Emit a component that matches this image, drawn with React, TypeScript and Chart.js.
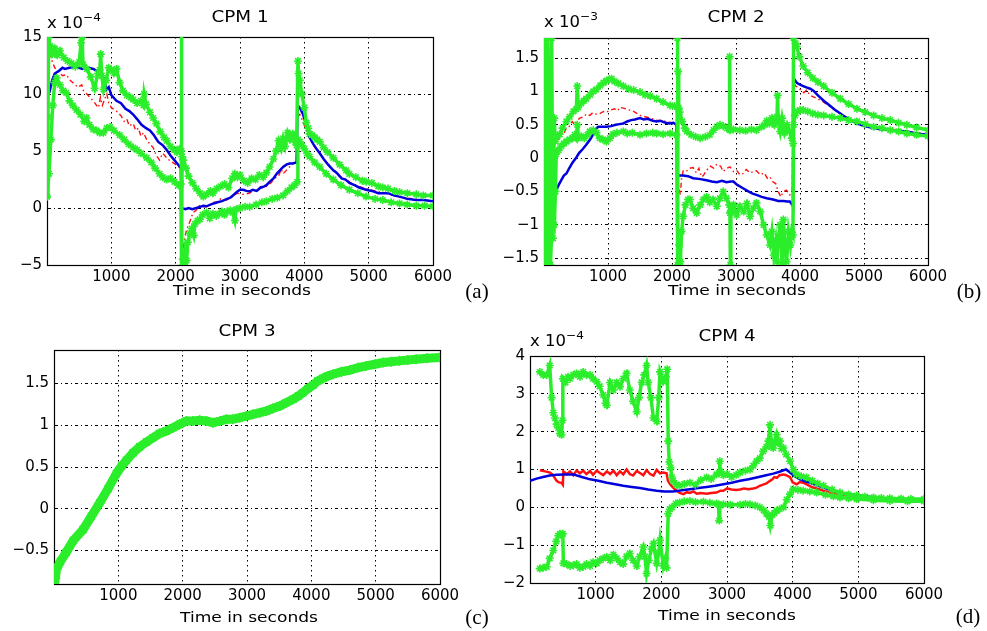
import React, { useEffect, useRef } from 'react';
import { Chart, registerables } from 'chart.js';

Chart.register(...registerables);

type P = [number, number][];

// ---------------- CPM 1 (x 1e-4) ----------------
const cpm1GreenUpper: P = [
  [0, 1], [15, 8], [25, 15], [50, 14.2], [80, 13.5], [120, 14], [160, 13.4], [200, 13.8], [260, 13.2],
  [320, 12.9], [380, 12.7], [440, 12.4], [500, 12.8], [530, 14.5], [545, 15], [560, 12.6], [620, 12.2],
  [680, 11.5], [740, 10.5], [790, 11.8], [820, 12.1], [835, 13.5], [850, 11.6], [880, 10.4], [920, 11.2],
  [960, 12.3], [1000, 12.1], [1040, 11.8], [1080, 12.2], [1130, 11.0], [1180, 10.3], [1240, 9.9],
  [1300, 9.7], [1340, 9.5], [1400, 9.2], [1460, 9.4], [1500, 9.0], [1510, 10.0], [1540, 9.1], [1600, 8.4],
  [1650, 7.9], [1700, 7.4], [1760, 6.7], [1820, 6.2], [1860, 5.9], [1920, 5.4], [1980, 5.1], [2020, 4.9],
  [2060, 5.2], [2088, 5.0], [2090, 15.5], [2094, -5.5], [2100, 4.5], [2120, 4.2], [2160, 3.5], [2200, 2.8],
  [2260, 2.2], [2320, 1.7], [2380, 1.3], [2430, 1.0], [2480, 1.2], [2540, 1.5], [2580, 1.3], [2640, 1.7],
  [2700, 1.9], [2760, 2.1], [2820, 1.8], [2880, 2.6], [2920, 3.0], [2960, 2.7], [3000, 2.9], [3060, 2.4],
  [3120, 2.2], [3180, 2.6], [3240, 2.5], [3300, 2.9], [3360, 2.7], [3410, 3.1], [3460, 3.6], [3520, 4.3],
  [3560, 5.0], [3600, 5.9], [3640, 5.2], [3670, 6.1], [3700, 5.4], [3740, 6.6], [3780, 6.0], [3820, 6.5],
  [3860, 5.8], [3880, 5.5], [3900, 12.9], [3910, 11.8], [3930, 11.2], [3960, 10.0], [4000, 8.8],
  [4030, 7.5], [4060, 7.0], [4080, 6.5], [4120, 6.4], [4160, 6.2], [4200, 6.0], [4240, 5.8], [4300, 5.3],
  [4360, 4.9], [4450, 4.4], [4550, 3.8], [4650, 3.3], [4700, 3.0], [4800, 2.7], [4900, 2.4], [4960, 2.3],
  [5050, 2.2], [5150, 1.9], [5220, 1.8], [5300, 1.7], [5400, 1.5], [5480, 1.4], [5600, 1.3], [5740, 1.2],
  [5850, 1.1], [6000, 1.1],
];
const cpm1GreenLower: P = [
  [0, 1], [30, 3], [60, 6], [90, 9], [120, 11], [150, 11.4], [200, 10.8], [250, 10.3], [300, 10.1],
  [350, 9.4], [400, 9.0], [460, 8.6], [520, 8.2], [580, 7.6], [615, 7.9], [660, 7.3], [720, 6.9],
  [770, 6.8], [820, 6.6], [875, 6.6], [930, 7.0], [980, 7.1], [1040, 6.8], [1130, 6.4], [1200, 6.0],
  [1270, 5.6], [1340, 5.3], [1400, 5.1], [1460, 4.8], [1550, 4.4], [1620, 4.0], [1680, 3.5], [1750, 3.0],
  [1800, 2.7], [1860, 2.5], [1920, 2.6], [1980, 2.3], [2040, 2.0], [2080, 2.1], [2095, -5.2], [2110, -4.5],
  [2130, -5.2], [2150, -3.8], [2170, -4.6], [2190, -3.0], [2220, -2.2], [2250, -1.8], [2280, -2.4],
  [2300, -1.4], [2340, -1.1], [2375, -1.0], [2420, -0.6], [2480, -0.4], [2530, -0.9], [2580, -0.5],
  [2630, -0.7], [2680, -0.5], [2720, -0.3], [2760, -0.6], [2800, -0.3], [2850, -0.2], [2890, -0.4],
  [2920, -1.1], [2940, -0.1], [3000, 0.0], [3080, 0.1], [3150, 0.1], [3250, 0.3], [3340, 0.5], [3410, 0.6],
  [3500, 0.8], [3580, 0.9], [3670, 1.1], [3740, 1.5], [3800, 1.8], [3850, 2.0], [3890, 2.3], [3900, 6.0],
  [3930, 5.8], [3960, 5.5], [4000, 5.2], [4040, 4.8], [4080, 4.5], [4160, 4.0], [4240, 3.6], [4340, 3.0],
  [4450, 2.5], [4570, 2.0], [4700, 1.6], [4830, 1.3], [4960, 1.0], [5100, 0.8], [5220, 0.7], [5350, 0.5],
  [5480, 0.4], [5600, 0.3], [5740, 0.2], [5870, 0.2], [6000, 0.15],
];
const cpm1Blue: P = [
  [0, 10], [40, 10.2], [80, 11.2], [120, 11.8], [180, 12.0], [240, 12.3], [280, 12.2], [350, 12.3],
  [450, 12.4], [550, 12.2], [650, 12.3], [720, 12.2], [780, 12.0], [840, 11.8], [880, 11.4], [925, 10.4],
  [960, 10.6], [1000, 9.9], [1080, 9.4], [1150, 9.2], [1220, 8.7], [1280, 8.5], [1340, 8.2], [1400, 7.8],
  [1470, 7.3], [1540, 7.0], [1600, 6.8], [1660, 6.4], [1730, 5.8], [1800, 5.5], [1860, 5.1], [1920, 4.6],
  [1980, 4.2], [2040, 3.8], [2080, 3.5], [2090, 0.0], [2150, -0.1], [2200, 0.0], [2260, -0.1], [2320, 0.0],
  [2375, 0.1], [2430, 0.2], [2480, 0.15], [2540, 0.3], [2590, 0.4], [2650, 0.5], [2720, 0.6], [2800, 0.8],
  [2850, 0.9], [2890, 1.1], [2950, 1.4], [3000, 1.6], [3050, 1.6], [3100, 1.5], [3150, 1.45], [3200, 1.6],
  [3260, 1.5], [3320, 1.8], [3380, 1.9], [3410, 2.0], [3460, 2.3], [3520, 2.6], [3570, 3.0], [3620, 3.3],
  [3670, 3.6], [3720, 3.8], [3770, 3.9], [3820, 3.9], [3880, 4.0], [3895, 9.0], [3930, 8.8], [3980, 8.2],
  [4030, 7.3], [4080, 6.2], [4140, 5.6], [4200, 5.1], [4240, 4.8], [4300, 4.3], [4370, 3.8], [4450, 3.3],
  [4500, 3.1], [4580, 2.6], [4640, 2.5], [4700, 2.2], [4780, 2.0], [4850, 1.8], [4960, 1.6], [5050, 1.5],
  [5150, 1.3], [5220, 1.3], [5300, 1.3], [5400, 1.1], [5480, 1.0], [5600, 0.8], [5740, 0.7], [5850, 0.7],
  [6000, 0.6],
];
const cpm1Red: P = [
  [0, 10], [20, 14], [60, 13.2], [120, 12.3], [180, 12.0], [240, 11.6], [300, 11.7], [360, 11.2],
  [420, 10.9], [480, 10.6], [540, 10.8], [565, 10.3], [620, 10.0], [680, 9.6], [720, 9.4], [770, 9.0],
  [800, 8.8], [830, 9.7], [860, 9.0], [900, 9.6], [930, 10.0], [960, 9.2], [1000, 8.8], [1080, 8.5],
  [1150, 8.1], [1200, 7.6], [1240, 7.8], [1280, 7.2], [1340, 7.4], [1380, 6.8], [1420, 7.0], [1460, 6.3],
  [1500, 6.6], [1550, 6.0], [1600, 5.6], [1650, 5.3], [1700, 4.6], [1750, 4.2], [1800, 4.8], [1860, 4.4],
  [1920, 4.1], [1980, 3.9], [2040, 3.6], [2085, 3.5], [2095, -5.0], [2110, -4.0], [2140, -2.6],
  [2170, -1.9], [2220, -1.2], [2270, -0.4], [2320, -0.2], [2380, 0.3], [2430, 0.1], [2480, 0.1],
  [2540, 0.3], [2600, 0.5], [2650, 0.5], [2700, 0.8], [2790, 0.7], [2850, 0.9], [2900, 1.1], [2960, 1.3],
  [3050, 1.2], [3150, 1.3], [3220, 1.5], [3300, 1.7], [3360, 1.8], [3410, 1.9], [3480, 2.2], [3540, 2.6],
  [3600, 2.8], [3640, 3.4], [3670, 3.0], [3720, 3.3], [3770, 3.6], [3820, 3.9], [3880, 4.0], [3895, 8.0],
  [3930, 8.2], [3970, 7.7], [4020, 7.0], [4080, 6.2], [4130, 5.6], [4190, 5.1], [4250, 4.7], [4320, 4.2],
  [4400, 3.6], [4450, 3.4], [4550, 2.8], [4650, 2.5], [4750, 2.1], [4850, 1.9], [4960, 1.7], [5100, 1.5],
  [5250, 1.3], [5400, 1.1], [5550, 0.9], [5700, 0.8], [5850, 0.7], [6000, 0.6],
];

// ---------------- CPM 2 (x 1e-3) ----------------
const cpm2GreenUpper: P = [
  [10, -1.6], [20, 1.8], [40, -1.0], [60, 1.8], [90, -1.6], [120, 1.8], [140, -1.2], [160, 0.6],
  [175, 0.25], [210, 0.32], [245, 0.36], [290, 0.45], [350, 0.55], [400, 0.62], [460, 0.7], [505, 0.74],
  [520, 1.08], [535, 0.76], [580, 0.82], [620, 0.86], [660, 0.89], [720, 0.95], [770, 1.0], [820, 1.03],
  [880, 1.09], [930, 1.13], [975, 1.16], [1020, 1.18], [1055, 1.19], [1100, 1.15], [1160, 1.12],
  [1240, 1.08], [1320, 1.04], [1400, 1.02], [1500, 0.99], [1580, 0.95], [1660, 0.93], [1760, 0.89],
  [1860, 0.84], [1970, 0.79], [2040, 0.78], [2080, 0.77], [2085, 1.8], [2090, -1.6], [2095, 1.3],
  [2105, 0.75], [2120, 0.69], [2160, 0.55], [2200, 0.45], [2230, 0.4], [2300, 0.35], [2370, 0.32],
  [2440, 0.3], [2520, 0.32], [2590, 0.35], [2650, 0.42], [2700, 0.47], [2750, 0.5], [2800, 0.48],
  [2860, 0.45], [2895, 0.43], [2900, 1.52], [2910, 0.42], [2960, 0.43], [3060, 0.42], [3150, 0.41],
  [3240, 0.43], [3320, 0.42], [3400, 0.47], [3450, 0.5], [3480, 0.56], [3520, 0.52], [3560, 0.6],
  [3600, 0.5], [3640, 0.62], [3650, 0.94], [3660, 0.55], [3690, 0.4], [3720, 0.6], [3760, 0.38],
  [3800, 0.5], [3840, 0.4], [3870, 0.3], [3890, 0.22], [3900, 1.8], [3930, 1.72], [3950, 1.67],
  [3990, 1.52], [4050, 1.38], [4120, 1.28], [4200, 1.2], [4280, 1.14], [4370, 1.08], [4500, 0.98],
  [4630, 0.89], [4760, 0.81], [4890, 0.74], [5020, 0.69], [5150, 0.64], [5280, 0.6], [5410, 0.57],
  [5540, 0.53], [5670, 0.5], [5820, 0.46], [6000, 0.42],
];
const cpm2GreenLower: P = [
  [30, 1.8], [50, -1.6], [80, 0.4], [100, -1.6], [130, -0.9], [160, -1.0], [180, -0.5], [190, 0.06],
  [230, 0.12], [270, 0.18], [310, 0.22], [350, 0.25], [400, 0.28], [450, 0.3], [480, 0.35], [505, 0.3],
  [520, 0.5], [530, 0.3], [580, 0.33], [630, 0.3], [680, 0.35], [715, 0.4], [770, 0.42], [820, 0.38],
  [870, 0.3], [920, 0.28], [975, 0.25], [1030, 0.3], [1080, 0.36], [1140, 0.38], [1240, 0.4], [1300, 0.37],
  [1380, 0.38], [1500, 0.35], [1600, 0.37], [1700, 0.38], [1760, 0.37], [1860, 0.36], [1970, 0.37],
  [2070, 0.35], [2095, -1.6], [2110, -1.3], [2130, -1.55], [2150, -1.1], [2175, -0.87], [2210, -0.7],
  [2250, -0.62], [2280, -0.62], [2330, -0.75], [2385, -0.82], [2440, -0.7], [2490, -0.62], [2540, -0.58],
  [2590, -0.66], [2640, -0.62], [2700, -0.72], [2750, -0.6], [2800, -0.5], [2850, -0.6], [2895, -0.7],
  [2905, -0.82], [2912, -1.6], [2920, -0.8], [2960, -0.7], [3010, -0.85], [3060, -0.72], [3120, -0.8],
  [3170, -0.68], [3220, -0.87], [3270, -0.75], [3320, -0.67], [3380, -0.8], [3430, -1.0], [3480, -1.15],
  [3530, -1.3], [3560, -1.1], [3590, -1.45], [3620, -1.25], [3640, -1.55], [3660, -1.2], [3690, -1.0],
  [3720, -1.6], [3740, -0.92], [3770, -1.4], [3790, -1.55], [3820, -1.1], [3850, -1.3], [3870, -1.1],
  [3890, -1.15], [3900, 0.5], [3920, 0.64], [3960, 0.7], [4000, 0.72], [4050, 0.72], [4120, 0.7],
  [4200, 0.67], [4280, 0.65], [4370, 0.64], [4500, 0.62], [4630, 0.6], [4760, 0.57], [4890, 0.55],
  [5020, 0.51], [5150, 0.47], [5280, 0.45], [5410, 0.42], [5540, 0.4], [5670, 0.37], [5820, 0.35],
  [6000, 0.33],
];
const cpm2Blue: P = [
  [0, -0.62], [50, -0.6], [100, -0.55], [150, -0.5], [190, -0.48], [230, -0.4], [270, -0.33], [310, -0.26],
  [350, -0.23], [400, -0.14], [450, -0.06], [505, 0.01], [550, 0.08], [600, 0.13], [660, 0.2], [720, 0.28],
  [770, 0.36], [820, 0.45], [850, 0.47], [900, 0.47], [975, 0.47], [1050, 0.48], [1120, 0.5], [1180, 0.51],
  [1240, 0.52], [1300, 0.55], [1360, 0.57], [1420, 0.58], [1500, 0.6], [1560, 0.58], [1620, 0.59],
  [1700, 0.56], [1760, 0.55], [1820, 0.56], [1900, 0.53], [1960, 0.52], [2020, 0.53], [2070, 0.5],
  [2080, -0.26], [2100, -0.26], [2175, -0.26], [2250, -0.27], [2330, -0.3], [2420, -0.31], [2540, -0.33],
  [2620, -0.35], [2700, -0.36], [2780, -0.34], [2850, -0.36], [2920, -0.35], [2960, -0.35], [3020, -0.4],
  [3110, -0.45], [3200, -0.5], [3260, -0.53], [3320, -0.55], [3400, -0.58], [3480, -0.6], [3580, -0.62],
  [3660, -0.64], [3740, -0.64], [3800, -0.65], [3840, -0.65], [3880, -0.7], [3890, -0.72], [3895, 1.2],
  [3920, 1.17], [3950, 1.13], [4000, 1.1], [4050, 1.08], [4100, 1.06], [4160, 1.04], [4210, 1.01],
  [4280, 0.94], [4370, 0.86], [4450, 0.8], [4540, 0.73], [4630, 0.67], [4700, 0.62], [4790, 0.57],
  [4890, 0.52], [5000, 0.48], [5150, 0.45], [5280, 0.43], [5410, 0.42], [5540, 0.41], [5670, 0.4],
  [5820, 0.37], [6000, 0.35],
];
const cpm2Red: P = [
  [0, -1.6], [20, 1.8], [35, 1.7], [50, 0.9], [70, 1.75], [90, 0.5], [110, 0.2], [130, 0.12], [150, 0.18],
  [170, 0.1], [200, 0.15], [230, 0.3], [270, 0.38], [300, 0.35], [350, 0.45], [400, 0.48], [440, 0.55],
  [480, 0.5], [505, 0.55], [560, 0.6], [620, 0.62], [660, 0.66], [715, 0.64], [760, 0.68], [820, 0.66],
  [880, 0.67], [930, 0.7], [975, 0.69], [1040, 0.72], [1100, 0.74], [1150, 0.71], [1185, 0.76],
  [1240, 0.75], [1300, 0.73], [1340, 0.72], [1400, 0.7], [1450, 0.67], [1500, 0.64], [1580, 0.62],
  [1660, 0.6], [1760, 0.57], [1860, 0.56], [1960, 0.54], [2050, 0.52], [2070, 0.4], [2085, -0.6],
  [2100, -0.4], [2130, -0.55], [2150, -0.3], [2175, -0.19], [2220, -0.2], [2280, -0.15], [2330, -0.14],
  [2380, -0.22], [2420, -0.15], [2460, -0.28], [2490, -0.26], [2540, -0.18], [2600, -0.12], [2650, -0.15],
  [2700, -0.09], [2760, -0.12], [2800, -0.2], [2860, -0.15], [2905, -0.13], [2960, -0.2], [3010, -0.18],
  [3060, -0.25], [3110, -0.23], [3160, -0.17], [3220, -0.22], [3270, -0.2], [3320, -0.19], [3380, -0.25],
  [3440, -0.22], [3490, -0.3], [3530, -0.28], [3570, -0.35], [3620, -0.38], [3660, -0.5], [3700, -0.58],
  [3740, -0.5], [3790, -0.48], [3840, -0.55], [3880, -0.5], [3895, 1.15], [3930, 1.08], [3970, 1.06],
  [4000, 1.03], [4060, 0.98], [4100, 1.02], [4160, 0.94], [4250, 0.9], [4370, 0.84], [4500, 0.75],
  [4600, 0.68], [4680, 0.64], [4760, 0.6], [4890, 0.55], [5020, 0.51], [5150, 0.48], [5280, 0.45],
  [5410, 0.44], [5540, 0.42], [5670, 0.4], [5820, 0.38], [6000, 0.36],
];

// ---------------- CPM 3 ----------------
const cpm3Green: P = [
  [0, -0.78], [20, -0.83], [40, -0.72], [100, -0.63], [190, -0.52], [300, -0.38], [450, -0.25],
  [580, -0.09], [710, 0.07], [840, 0.24], [970, 0.42], [1050, 0.51], [1125, 0.58], [1230, 0.67],
  [1330, 0.74], [1440, 0.8], [1540, 0.85], [1640, 0.9], [1745, 0.93], [1850, 0.97], [1950, 1.01],
  [2060, 1.05], [2160, 1.05], [2265, 1.06], [2370, 1.05], [2470, 1.03], [2580, 1.05], [2680, 1.07],
  [2780, 1.07], [2885, 1.09], [2990, 1.11], [3095, 1.13], [3200, 1.15], [3300, 1.17], [3400, 1.2],
  [3510, 1.23], [3610, 1.27], [3715, 1.31], [3800, 1.35], [3870, 1.39], [3950, 1.44], [4025, 1.48],
  [4100, 1.53], [4180, 1.56], [4260, 1.59], [4340, 1.61], [4470, 1.64], [4600, 1.66], [4730, 1.69],
  [4855, 1.71], [4990, 1.73], [5115, 1.75], [5240, 1.76], [5370, 1.77], [5500, 1.78], [5630, 1.79],
  [5800, 1.8], [6000, 1.81],
];

// ---------------- CPM 4 (x 1e-4) ----------------
const cpm4GreenUpper: P = [
  [150, 3.58], [200, 3.5], [255, 3.5], [300, 3.75], [330, 2.9], [355, 2.5], [380, 2.36], [405, 2.2],
  [430, 2.1], [455, 1.95], [480, 1.92], [495, 2.3], [500, 3.4], [540, 3.3], [580, 3.45], [610, 3.4],
  [660, 3.5], [710, 3.54], [760, 3.45], [810, 3.58], [860, 3.5], [915, 3.5], [960, 3.4], [1015, 3.32],
  [1060, 3.2], [1115, 2.97], [1150, 2.75], [1170, 2.7], [1220, 3.3], [1270, 3.1], [1320, 3.3], [1370, 3.19],
  [1420, 3.4], [1470, 3.54], [1520, 3.1], [1570, 2.8], [1625, 2.53], [1660, 2.9], [1700, 3.3], [1740, 3.5],
  [1775, 3.75], [1800, 3.3], [1840, 2.9], [1880, 2.36], [1930, 2.27], [1960, 2.9], [1980, 3.58],
  [2030, 3.32], [2070, 3.45], [2090, 3.65], [2105, 1.75], [2120, 1.2], [2140, 1.05], [2160, 0.8],
  [2180, 0.7], [2230, 0.6], [2280, 0.57], [2350, 0.62], [2435, 0.65], [2520, 0.6], [2600, 0.72],
  [2690, 0.79], [2760, 0.75], [2840, 0.87], [2880, 0.9], [2890, 1.22], [2900, 0.95], [2945, 0.85],
  [3000, 0.88], [3070, 0.8], [3140, 0.86], [3200, 0.92], [3280, 0.97], [3350, 1.0], [3400, 1.1],
  [3450, 1.22], [3500, 1.3], [3550, 1.48], [3600, 1.6], [3630, 1.75], [3655, 2.18], [3680, 1.6],
  [3705, 1.57], [3730, 1.75], [3755, 1.92], [3780, 1.7], [3805, 1.75], [3830, 1.55], [3860, 1.57],
  [3900, 1.4], [3960, 1.22], [4010, 1.0], [4060, 0.87], [4130, 0.82], [4210, 0.79], [4300, 0.7],
  [4380, 0.63], [4470, 0.57], [4600, 0.47], [4720, 0.39], [4850, 0.34], [4975, 0.31], [5100, 0.28],
  [5230, 0.26], [5350, 0.25], [5480, 0.24], [5650, 0.23], [5800, 0.22], [6000, 0.22],
];
const cpm4GreenLower: P = [
  [150, -1.62], [200, -1.6], [255, -1.57], [300, -1.35], [355, -1.14], [400, -0.9], [430, -0.75],
  [455, -0.7], [480, -0.72], [500, -0.7], [508, -1.48], [560, -1.5], [610, -1.55], [660, -1.53],
  [710, -1.5], [760, -1.6], [810, -1.57], [860, -1.5], [915, -1.55], [960, -1.45], [1015, -1.48],
  [1060, -1.4], [1115, -1.35], [1170, -1.31], [1220, -1.4], [1270, -1.25], [1320, -1.35], [1370, -1.45],
  [1420, -1.5], [1470, -1.3], [1520, -1.22], [1570, -1.4], [1625, -1.55], [1670, -1.3], [1725, -1.05],
  [1750, -1.3], [1775, -1.75], [1810, -1.4], [1850, -1.1], [1880, -0.96], [1930, -1.48], [1960, -1.2],
  [1980, -0.87], [2030, -1.55], [2060, -1.35], [2080, -1.6], [2105, -0.17], [2130, -0.05], [2160, 0.0],
  [2220, 0.1], [2280, 0.13], [2350, 0.16], [2435, 0.17], [2520, 0.14], [2640, 0.15], [2740, 0.12],
  [2840, 0.1], [2870, 0.08], [2880, -0.35], [2890, 0.05], [2945, 0.08], [3050, 0.07], [3200, 0.07],
  [3280, 0.09], [3350, 0.08], [3430, 0.05], [3500, 0.0], [3560, -0.08], [3600, -0.17], [3640, -0.25],
  [3660, -0.48], [3690, -0.2], [3720, -0.15], [3755, -0.09], [3800, -0.05], [3860, 0.0], [3910, 0.2],
  [3960, 0.35], [4010, 0.48], [4080, 0.46], [4160, 0.44], [4260, 0.42], [4365, 0.39], [4500, 0.33],
  [4620, 0.29], [4720, 0.26], [4850, 0.24], [4975, 0.22], [5230, 0.19], [5480, 0.17], [5750, 0.16],
  [6000, 0.16],
];
const cpm4Blue: P = [
  [0, 0.7], [100, 0.76], [200, 0.8], [300, 0.84], [405, 0.86], [530, 0.87], [660, 0.87], [790, 0.8],
  [915, 0.74], [1040, 0.7], [1170, 0.65], [1300, 0.61], [1420, 0.57], [1550, 0.54], [1675, 0.51],
  [1800, 0.47], [1930, 0.44], [2050, 0.42], [2180, 0.42], [2310, 0.45], [2435, 0.48], [2560, 0.51],
  [2690, 0.54], [2820, 0.57], [2945, 0.61], [3070, 0.65], [3200, 0.7], [3330, 0.74], [3450, 0.79],
  [3580, 0.84], [3705, 0.89], [3800, 0.94], [3860, 0.98], [3900, 1.0], [3960, 0.92], [4030, 0.82],
  [4110, 0.74], [4190, 0.69], [4265, 0.65], [4370, 0.58], [4470, 0.52], [4600, 0.45], [4720, 0.39],
  [4850, 0.35], [4975, 0.32], [5100, 0.29], [5230, 0.26], [5480, 0.23], [5750, 0.21], [6000, 0.19],
];
const cpm4Red: P = [
  [150, 0.98], [230, 0.95], [305, 0.92], [350, 0.85], [405, 0.7], [440, 0.66], [480, 0.65], [500, 0.6],
  [508, 0.95], [560, 0.88], [610, 0.95], [660, 0.85], [710, 0.97], [760, 0.9], [810, 0.97], [860, 0.88],
  [915, 0.96], [960, 0.86], [1015, 0.97], [1070, 0.9], [1115, 0.85], [1170, 0.95], [1220, 0.88],
  [1270, 0.97], [1320, 0.85], [1370, 0.95], [1420, 0.87], [1470, 1.0], [1520, 0.88], [1570, 0.84],
  [1625, 0.96], [1680, 0.9], [1725, 0.85], [1775, 0.98], [1830, 0.88], [1880, 0.84], [1930, 0.99],
  [1980, 0.9], [2030, 0.92], [2080, 0.9], [2100, 0.7], [2140, 0.6], [2180, 0.52], [2230, 0.44],
  [2280, 0.38], [2335, 0.35], [2390, 0.4], [2435, 0.38], [2490, 0.42], [2540, 0.36], [2600, 0.38],
  [2690, 0.36], [2760, 0.38], [2840, 0.39], [2900, 0.44], [2945, 0.44], [3000, 0.5], [3070, 0.47],
  [3140, 0.46], [3200, 0.47], [3260, 0.5], [3330, 0.48], [3400, 0.5], [3450, 0.52], [3500, 0.57],
  [3550, 0.6], [3600, 0.63], [3655, 0.7], [3690, 0.74], [3720, 0.8], [3760, 0.78], [3800, 0.85],
  [3860, 0.87], [3900, 0.85], [3960, 0.8], [4000, 0.66], [4060, 0.61], [4110, 0.67], [4160, 0.65],
  [4220, 0.6], [4300, 0.53], [4380, 0.49], [4470, 0.44], [4600, 0.38], [4720, 0.35], [4850, 0.32],
  [4975, 0.3], [5100, 0.28], [5230, 0.26], [5480, 0.23], [5750, 0.21], [6000, 0.2],
];

// ---------------- ticks ----------------
const xTicks = [1000, 2000, 3000, 4000, 5000, 6000];
const yTicksA = [-5, 0, 5, 10, 15];
const yTicksB = [-1.5, -1, -0.5, 0, 0.5, 1, 1.5];
const yTicksC = [-0.5, 0, 0.5, 1, 1.5];
const yTicksD = [-2, -1, 0, 1, 2, 3, 4];

// ---------------- styling / layout ----------------
const GREEN = '#2aee2a';
const BLUE = '#0000dd';
const RED = '#ff1010';
const FONT = '"DejaVu Sans", "Liberation Sans", Arial, sans-serif';
const SERIF = '"Liberation Serif", "DejaVu Serif", "Times New Roman", serif';

const Y_AXIS_W = 45;
const PAD_TOP = 12;
const PAD_RIGHT = 30;
const X_AXIS_H = 28;

type Kind = 'green' | 'greenThick' | 'blue' | 'redDash' | 'red';
interface PanelSpec {
  key: string;
  left: number;
  top: number;
  width: number;
  height: number;
  yMin: number;
  yMax: number;
  yTicks: number[];
  series: { pts: P; kind: Kind }[];
}

const panels: PanelSpec[] = [
  {
    key: 'a', left: 47, top: 35, width: 386, height: 230, yMin: -5, yMax: 15, yTicks: yTicksA,
    series: [
      { pts: cpm1GreenUpper, kind: 'green' }, { pts: cpm1GreenLower, kind: 'green' },
      { pts: cpm1Blue, kind: 'blue' }, { pts: cpm1Red, kind: 'redDash' },
    ],
  },
  {
    key: 'b', left: 544, top: 36, width: 384, height: 229, yMin: -1.6, yMax: 1.8, yTicks: yTicksB,
    series: [
      { pts: cpm2GreenUpper, kind: 'green' }, { pts: cpm2GreenLower, kind: 'green' },
      { pts: cpm2Blue, kind: 'blue' }, { pts: cpm2Red, kind: 'redDash' },
    ],
  },
  {
    key: 'c', left: 54, top: 348, width: 386, height: 236, yMin: -0.9, yMax: 1.9, yTicks: yTicksC,
    series: [{ pts: cpm3Green, kind: 'greenThick' }],
  },
  {
    key: 'd', left: 530, top: 354, width: 394, height: 229, yMin: -2, yMax: 4, yTicks: yTicksD,
    series: [
      { pts: cpm4GreenUpper, kind: 'green' }, { pts: cpm4GreenLower, kind: 'green' },
      { pts: cpm4Blue, kind: 'blue' }, { pts: cpm4Red, kind: 'red' },
    ],
  },
];

function makeDataset(pts: P, kind: Kind): any {
  const data = pts.map(([x, y]) => ({ x, y }));
  const base: any = { data, tension: 0, fill: false, pointRadius: 0, pointHoverRadius: 0 };
  if (kind === 'green' || kind === 'greenThick') {
    const thick = kind === 'greenThick';
    return {
      ...base,
      borderColor: GREEN,
      backgroundColor: GREEN,
      borderWidth: thick ? 9 : 3.5,
      pointStyle: 'star',
      pointRadius: thick ? 5 : 4,
      pointBorderColor: GREEN,
      pointBorderWidth: 1.6,
    };
  }
  if (kind === 'blue') return { ...base, borderColor: BLUE, borderWidth: 2.5 };
  if (kind === 'redDash') return { ...base, borderColor: RED, borderWidth: 1.4, borderDash: [5, 3, 1.5, 3] };
  return { ...base, borderColor: RED, borderWidth: 2.5 };
}

const fmt = (v: number) => (v < 0 ? '\u2212' + String(Math.abs(v)) : String(v));

const boxPlugin = {
  id: 'axesBox',
  beforeDatasetsDraw(chart: any) {
    const { ctx, chartArea: a } = chart;
    ctx.save();
    ctx.strokeStyle = '#000';
    ctx.lineWidth = 1.2;
    ctx.setLineDash([]);
    ctx.strokeRect(Math.round(a.left) + 0.5, Math.round(a.top) + 0.5, Math.round(a.right - a.left), Math.round(a.bottom - a.top));
    ctx.restore();
  },
};

function PanelChart({ spec }: { spec: PanelSpec }) {
  const ref = useRef<HTMLCanvasElement>(null);
  const W = Y_AXIS_W + spec.width + PAD_RIGHT;
  const H = PAD_TOP + spec.height + X_AXIS_H;
  useEffect(() => {
    if (!ref.current) return;
    const chart = new Chart(ref.current, {
      type: 'line',
      data: { datasets: spec.series.map((s) => makeDataset(s.pts, s.kind)) },
      options: {
        responsive: false,
        maintainAspectRatio: false,
        animation: false,
        events: [],
        layout: { padding: { top: PAD_TOP, right: PAD_RIGHT, left: 0, bottom: 0 } },
        plugins: { legend: { display: false }, tooltip: { enabled: false }, title: { display: false } },
        scales: {
          x: {
            type: 'linear',
            min: 0,
            max: 6000,
            afterBuildTicks: (s: any) => { s.ticks = xTicks.map((v) => ({ value: v })); },
            afterFit: (s: any) => { s.height = X_AXIS_H; },
            grid: { color: '#000', lineWidth: 1, drawTicks: false },
            border: { display: true, color: '#000', width: 1, dash: [1.5, 3.5] },
            ticks: {
              padding: 3, color: '#000', maxRotation: 0, autoSkip: false,
              font: { family: FONT, size: 15 },
              callback: (v: any) => String(v),
            },
          },
          y: {
            type: 'linear',
            min: spec.yMin,
            max: spec.yMax,
            afterBuildTicks: (s: any) => { s.ticks = spec.yTicks.map((v) => ({ value: v })); },
            afterFit: (s: any) => { s.width = Y_AXIS_W; },
            grid: { color: '#000', lineWidth: 1, drawTicks: false },
            border: { display: true, color: '#000', width: 1, dash: [3, 3, 1, 3] },
            ticks: {
              padding: 5, color: '#000', autoSkip: false,
              font: { family: FONT, size: 15 },
              callback: (v: any) => fmt(Number(v)),
            },
          },
        },
      } as any,
      plugins: [boxPlugin],
    });
    return () => chart.destroy();
  }, [spec]);
  return (
    <canvas
      ref={ref}
      width={W}
      height={H}
      style={{ position: 'absolute', left: spec.left - Y_AXIS_W, top: spec.top - PAD_TOP, width: W, height: H }}
    />
  );
}

function CenterText({ text, cx, cy, size = 14, family = FONT, sx = 1.22 }: { text: string; cx: number; cy: number; size?: number; family?: string; sx?: number }) {
  const lh = Math.round(size * 1.3);
  return (
    <div
      style={{
        position: 'absolute', left: cx - 150, width: 300, top: cy - lh / 2, height: lh, lineHeight: lh + 'px',
        textAlign: 'center', fontFamily: family, fontSize: size, color: '#000', whiteSpace: 'nowrap',
        transform: `scaleX(${sx})`, transformOrigin: 'center center',
      }}
    >
      {text}
    </div>
  );
}

function ExpText({ exp, x, cy }: { exp: string; x: number; cy: number }) {
  return (
    <div
      style={{
        position: 'absolute', left: x, top: cy - 11, height: 22, lineHeight: '22px',
        fontFamily: FONT, fontSize: 15, color: '#000', whiteSpace: 'nowrap',
        transform: 'scaleX(1.1)', transformOrigin: 'left center',
      }}
    >
      x 10<span style={{ fontSize: 11, position: 'relative', top: -7 }}>{exp}</span>
    </div>
  );
}

export default function App() {
  return (
    <div style={{ position: 'absolute', left: 0, top: 0, width: 987, height: 631, background: '#fff', overflow: 'hidden' }}>
      {panels.map((p) => (
        <PanelChart key={p.key} spec={p} />
      ))}
      <CenterText text="CPM 1" cx={240} cy={17} size={15} />
      <CenterText text="CPM 2" cx={736} cy={17} size={15} />
      <CenterText text="CPM 3" cx={247} cy={331} size={15} />
      <CenterText text="CPM 4" cx={727} cy={336} size={15} />
      <ExpText exp={'\u22124'} x={47} cy={23} />
      <ExpText exp={'\u22123'} x={544} cy={22} />
      <ExpText exp={'\u22124'} x={530} cy={341} />
      <CenterText text="Time in seconds" cx={242} cy={290} />
      <CenterText text="Time in seconds" cx={737} cy={290} />
      <CenterText text="Time in seconds" cx={249} cy={617} />
      <CenterText text="Time in seconds" cx={727} cy={615} />
      <CenterText text="(a)" cx={477} cy={291} size={21} family={SERIF} sx={1} />
      <CenterText text="(b)" cx={969} cy={291} size={21} family={SERIF} sx={1} />
      <CenterText text="(c)" cx={477} cy={617} size={21} family={SERIF} sx={1} />
      <CenterText text="(d)" cx={968} cy={616} size={21} family={SERIF} sx={1} />
    </div>
  );
}
